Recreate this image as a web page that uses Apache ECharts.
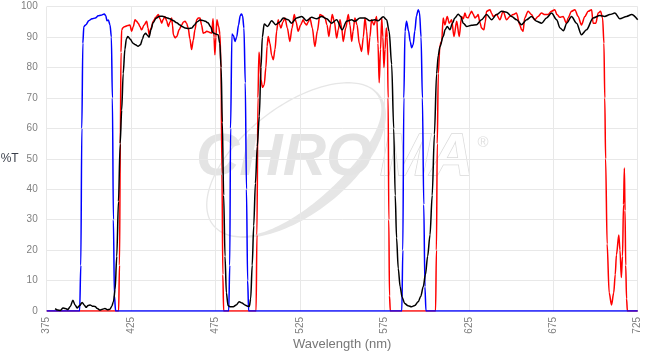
<!DOCTYPE html>
<html><head><meta charset="utf-8">
<script src="https://cdn.jsdelivr.net/npm/echarts@6/dist/echarts.min.js"></script>
<style>html,body{margin:0;padding:0;background:#fff}#c{width:652px;height:354px}</style>
</head><body><div id="c"></div>
<script>
// ---- data (wavelength nm, %T) ----
const blueWl = [375,394.5,395.2,395.8,396.4,397,398.3,399.9,401.8,403.8,405.5,407.1,409.1,410,410.7,411.5,412.5,413.3,413.9,414.5,415.1,415.8,
  482.8,483.4,483.9,484.7,485.6,486.5,487.5,488.6,489.6,490.3,491,491.8,492.6,493.3,494,494.6,
  585.3,585.9,586.5,587.2,588.1,589.3,590.3,591.1,592,593,594,595,595.8,596.7,597.5,598.3,599,599.6,725];
const blueT = [0,0,15,60,88,93.5,94.1,95.4,96,96.3,97,97.2,97.6,97,95.4,95.6,94,90,70,30,5,0,
  0,15,60,91,90.5,88.6,90,94,97,97.6,97,93,75,40,10,0,
  0,20,70,92,95.2,92,88.5,86.5,87.5,92,97,99,98,90,70,35,8,0,0];

const blackWl = [380,381.5,383,384.7,386,387.6,389,390.5,391.8,393,394.5,396,397.2,398.3,399.5,400.7,402,403.6,405,406.6,408,409.5,411,412.5,413.5,414.5,415.5,416.5,417.5,418.5,419.4,420.3,421.3,422.2,423.1,424.5,426.1,427.6,429.1,430.5,431.8,432.6,433.6,434.6,435.6,436.8,438,439.8,441.5,443.5,446,448,449.8,452,453.9,455.5,456.9,459,461,462.5,464,465.8,467.5,469,470.5,472,473.5,475,476.5,477.5,478.3,479,479.8,480.6,481.4,482.4,483.5,485.5,487.2,489,490.7,492.4,494,495,495.8,496.7,497.6,498.6,499.7,500.9,501.9,502.7,503.8,505.8,508.2,510.6,513.1,515.1,518,520,523,526,528.9,531.9,534.9,537.8,540.8,543.7,546.7,550,552.6,555.6,557.5,560.5,563.5,566.4,569.4,571.3,574.3,576.3,577.8,579.3,580.5,581.4,582.2,583.2,584.3,585.5,587,589,591,593,595,596.5,598,599.3,600.6,602,603.3,604.6,605.9,606.9,607.9,609.8,611,612.2,613.8,615.2,616.7,618.7,620.2,621.7,623.7,626.6,629.6,632.5,635.5,638.5,641.4,644.4,647.3,650.3,653.3,656.2,659.2,662.1,665.1,668.1,671,674,677,679,681,683,685.8,688.8,691.7,694.7,698.6,702.6,705.5,708.5,711.5,714.4,718.4,721.4,725];
const blackT = [0.8,0.3,0.2,1,0.8,0.5,1.5,3.5,2,1,1.8,2.8,2,1.2,1.8,2,1.6,1.5,0.8,0.3,0.6,0.8,0.4,0.6,1.5,3,7,18,36,55,66,78,86,89.5,90.2,89.3,88,87.5,87,87.5,89.5,90.8,91.3,90.6,90,92.5,94.7,96.2,96.8,96.9,96.4,96,95.5,94.7,94,93.4,93,92.8,93,94,95,95.6,95.5,95.2,94.7,93.5,91.4,91,90.8,88,80,62,38,18,6,1.8,1.4,1.4,2,3,2.6,2,1.6,1.5,4,15,28,42,54,64,80,90,94.3,93.5,95.4,94.1,95,96.3,95.7,94.6,96.3,96.8,95.4,96.5,96,96.8,96,94.6,95.7,92.4,95.2,95.7,95.2,96.3,96.3,95.4,95.7,95.4,96.7,95.7,91.9,81,60,38,24,14,8,4.5,2.5,1.7,1.4,1.8,3,4.8,8,12,18,25,38,58,78,84,86.8,90.2,92.5,93.5,92.4,94.5,96.3,97.5,96.8,94.6,93.5,93.9,94.1,95.7,97.4,95.7,97.4,98.5,98.2,96.8,95.7,94.1,95.7,96.8,95.2,94.6,96.3,97.9,95.7,93,92.1,94.6,96.8,94.6,90.8,92.4,96.3,97.1,96.8,97.4,97.9,96,96.8,97.4,95.7];

const redWl = [375,417.6,418.1,418.6,419,419.4,420.3,421.4,423,424.3,425.3,426.3,427.3,428.2,429.2,430.2,431.2,432.7,434.2,435,435.7,436.8,438.1,439.6,441.1,442.1,443.1,444,445,446,447,448,449,449.5,450,451,452,453.5,454.9,456,456.9,457.8,458.8,459.8,460.8,461.8,462.8,463.8,464.8,465.8,466.7,467.7,468.7,469.7,470.7,471.7,472.7,473.5,474.1,474.6,475.2,475.8,476.8,477.6,478.2,478.8,479.3,479.8,
  499,499.5,500.1,500.7,501.3,501.9,502.8,503.8,504.8,505.5,506.2,507.2,508.2,509.2,510.2,511.2,512.1,513,513.7,514.9,516.1,517.5,519,520.3,521.6,522.7,523.9,525.4,526.9,527.9,528.9,529.9,530.9,532.3,533.8,535.3,536.8,538.3,539.8,541,542.1,543.1,544.1,545.4,546.7,547.7,548.7,549.7,550.6,552.1,553.6,554.6,555.6,556.5,557.5,558.8,560.1,561.5,562.5,563.5,564.5,565.4,566.4,567.4,568.8,570.4,571.2,571.9,572.7,573.4,574.1,574.7,575.4,576.1,576.7,577.2,577.6,578,578.5,
  605.3,605.8,606.3,606.9,607.9,608.9,609.8,610.8,612.2,613.4,614.8,616.2,617.8,619.3,620.7,621.7,622.7,623.6,624.6,625.6,626.6,627.6,628.6,629.6,630.5,631.5,632.5,633.9,634.7,635.5,637.5,638.5,639.4,641.4,643.4,645.3,647.3,649.3,651.2,653.2,655.2,656.2,657.1,658.1,660.1,662.1,664,666,668,670,671.9,673.9,675.9,677.2,678.9,680.8,682.8,683.8,685.8,687.8,689.7,691.7,693.7,695.7,697.7,698.6,700.2,701.6,703,704.2,705,705.5,706,706.9,708.1,709.5,710.8,711.7,712.4,713.8,714.5,715.3,716,716.6,717.1,717.5,717.9,718.4,718.9,725];
const redT = [0,0,15,55,85,92.4,93.2,93.5,93.8,94,91.9,93.5,95.7,95.2,94.6,93.5,92.4,94,95.2,93,90.8,93,95.2,96.5,97.4,96,94.6,95.8,96.8,95.4,93.5,95,96.3,94,90.8,89.8,90.2,92.5,94,95,95.2,94.6,93,89.5,85.9,89,92.4,95.7,96.3,96.3,94,91.3,91.5,91.9,91.8,91.5,91.3,96,90,84.2,90,95.7,93.5,91,80,45,12,0,
  0,25,70,85,82,76,73.5,74.3,80,87,90.2,88,84,82.6,86,92,95.7,94,93,95,96.3,93,88.6,93,97.4,95,91.9,94,95.7,94.6,94,95,96.3,93,86.9,92,97.4,97,96.3,94,90.2,94,97.4,95,89.7,92.5,95.7,93,88.6,93,97.4,94,88.6,92,96.3,94,88,85.3,90,96.3,92,84.2,90,95.7,94,96.8,88,75,86,96.3,90,80,86,93,90,70,30,5,0,
  0,20,55,78,87.5,88.6,96.3,94,96.8,94.6,95.7,90.2,95.2,90.2,96.8,96,97.9,96.5,96.3,97.5,98.5,97.5,96.3,96.8,97.4,95,93,92.4,95,98.5,99,97.8,96.8,97.4,95.7,98.5,95.7,96.8,97.4,97.9,94,92.5,91.9,96.3,98.5,97.4,95.7,96.8,97.9,97.4,97.4,98.5,99,97.4,96.5,96.8,94.6,96.3,98.5,99,96.8,94,96.8,98.5,99,94.6,94.6,97.9,98.5,96.3,88,70,50,22,6,2,6,12,18.4,25,20,11,18,35,47,33,15,4,0,0];

const xTicks = [375, 725, 50];   // min, max, step of wavelength axis
const yTicks = [0, 100, 10];     // min, max, step of %T axis

function pairs(x, y) { return x.map((v, i) => [v, y[i]]); }

// watermark swoosh (decoration only)
function swoosh() {
  const cx = 296, cy = 160, a = 106, b = 54, ang = -38 * Math.PI / 180;
  const u = [Math.cos(ang), Math.sin(ang)], v = [-Math.sin(ang), Math.cos(ang)];
  const outer = [], inner = [];
  const N = 180;
  for (let i = 0; i <= N; i++) {
    const th = i / N * 2 * Math.PI;
    const lx = a * Math.cos(th), ly = b * Math.sin(th);
    let nx = Math.cos(th) / a, ny = Math.sin(th) / b;
    const nl = Math.hypot(nx, ny); nx /= nl; ny /= nl;
    const c = Math.max(0, Math.cos(th - 1.25));
    const t = 1.3 + 9 * c * c;
    const ix = lx - t * nx, iy = ly - t * ny;
    outer.push([cx + lx * u[0] + ly * v[0], cy + lx * u[1] + ly * v[1]]);
    inner.push([cx + ix * u[0] + iy * v[0], cy + ix * u[1] + iy * v[1]]);
  }
  return outer.concat(inner.reverse());
}

const chart = echarts.init(document.getElementById('c'), null, { renderer: 'canvas' });
const labelFont = 'Liberation Sans, Arial, sans-serif';
chart.setOption({
  animation: false,
  backgroundColor: '#fff',
  grid: { left: 46.7, right: 14.3, top: 6.7, bottom: 43, containLabel: false, outerBoundsMode: 'none' },
  graphic: [
    { type: 'polygon', z: 0, silent: true, shape: { points: swoosh() }, style: { fill: '#e6e6e6' } },
    { type: 'text', z: 0, silent: true, x: 196, y: 158.5,
      style: { text: 'CHRO', font: 'italic bold 60px "Liberation Sans"', fill: '#e4e4e4', verticalAlign: 'middle', align: 'left' } },
    { type: 'text', z: 0, silent: true, x: 380, y: 158.5,
      style: { text: 'MA', font: 'italic bold 60px "Liberation Sans"', fill: '#ffffff', stroke: '#dadada', lineWidth: 1.5, verticalAlign: 'middle', align: 'left' } },
    { type: 'text', z: 0, silent: true, x: 483, y: 143,
      style: { text: '®', font: '15px "Liberation Sans"', fill: '#e0e0e0', verticalAlign: 'middle', align: 'center' } }
  ],
  xAxis: {
    type: 'value', min: xTicks[0], max: xTicks[1], interval: xTicks[2],
    name: 'Wavelength (nm)', nameLocation: 'middle', nameGap: 27, nameMoveOverlap: false,
    nameTextStyle: { color: '#777', fontSize: 13, fontFamily: labelFont },
    axisLine: { show: false }, axisTick: { show: false },
    axisLabel: { rotate: 90, color: '#808080', fontSize: 10, margin: 6, fontFamily: labelFont },
    splitLine: { show: true, lineStyle: { color: '#e8e8e8', width: 1 } }
  },
  yAxis: {
    type: 'value', min: yTicks[0], max: yTicks[1], interval: yTicks[2],
    name: '%T', nameLocation: 'middle', nameRotate: 0, nameGap: 28, nameMoveOverlap: false,
    nameTextStyle: { color: '#3a3f4a', fontSize: 12, fontFamily: labelFont },
    axisLine: { show: false }, axisTick: { show: false },
    axisLabel: { color: '#808080', fontSize: 10, margin: 9, fontFamily: labelFont },
    splitLine: { show: true, lineStyle: { color: '#e8e8e8', width: 1 } }
  },
  series: [
    { type: 'line', name: 'Red', data: pairs(redWl, redT), showSymbol: false, smooth: 0.3, smoothMonotone: 'x',
      lineStyle: { color: '#ff0000', width: 1.5 }, z: 3 },
    { type: 'line', name: 'Blue', data: pairs(blueWl, blueT), showSymbol: false, smooth: 0.3, smoothMonotone: 'x',
      lineStyle: { color: '#0000ff', width: 1.5 }, z: 4 },
    { type: 'line', name: 'Black', data: pairs(blackWl, blackT), showSymbol: false, smooth: 0.3, smoothMonotone: 'x',
      lineStyle: { color: '#000000', width: 1.5 }, z: 5 }
  ]
});
</script>
</body></html>
